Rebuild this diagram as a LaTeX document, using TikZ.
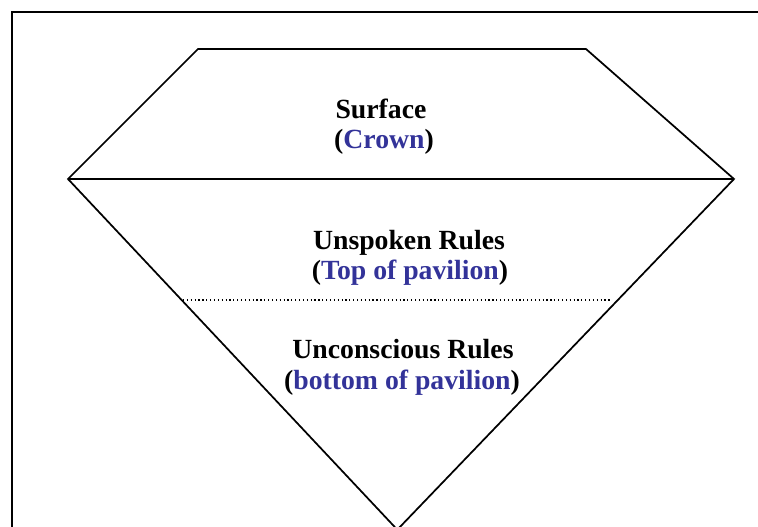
\documentclass[tikz,border=0pt]{standalone}
\usepackage{fontspec}
\setmainfont{Liberation Serif}
\definecolor{labelblue}{RGB}{51,51,153}
\begin{document}
\begin{tikzpicture}[x=0.75pt,y=-0.75pt,
  outline/.style={line width=1.3pt,line join=miter},
  frameline/.style={line width=1.5pt},
  sepline/.style={line width=0.9pt,dotted},
  lbl/.style={anchor=base,inner sep=0pt,font=\fontsize{20.8pt}{23pt}\selectfont\bfseries}]
\useasboundingbox (0,0) rectangle (758,526);
\clip (0,0) rectangle (758,526);
% frame (extends beyond right and bottom edge)
\draw[frameline] (12,12) rectangle (775,545);
% diamond
\coordinate (tl) at (198,49);
\coordinate (tr) at (586,49);
\coordinate (l) at (68,179);
\coordinate (r) at (734,179);
\coordinate (b) at (397.3,529.7);
\draw[outline] (tl) -- (tr) -- (r) -- (b) -- (l) -- cycle;
\draw[outline] (l) -- (r);
% dotted separation
\coordinate (dl) at (183,300);
\coordinate (dr) at (610,300);
\draw[sepline] (dl) -- (dr);
% labels
\node[lbl] (surf) at (381,118) {Surface};
\node[lbl] (crown) at (384,148) {(\textcolor{labelblue}{Crown})};
\node[lbl] (unsp) at (409,249) {Unspoken Rules};
\node[lbl] (top) at (410,279) {(\textcolor{labelblue}{Top of pavilion})};
\node[lbl] (uncon) at (403,358) {Unconscious Rules};
\node[lbl] (bot) at (402,389) {(\textcolor{labelblue}{bottom of pavilion})};
\end{tikzpicture}
\end{document}
